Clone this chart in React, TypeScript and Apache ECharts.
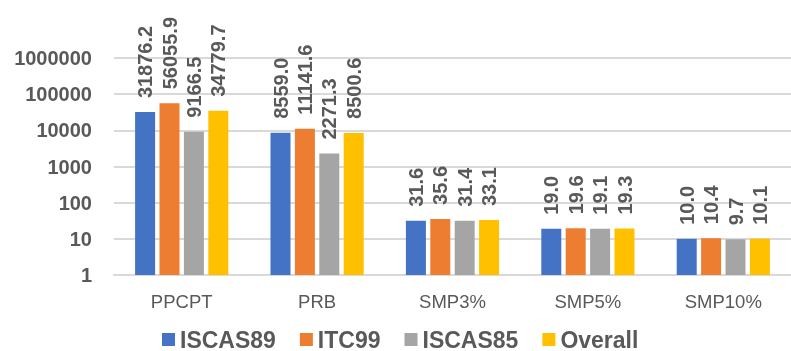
import React, { useEffect, useRef } from "react";
import * as echarts from "echarts";

const categories = ["PPCPT", "PRB", "SMP3%", "SMP5%", "SMP10%"];
const seriesNames = ["ISCAS89", "ITC99", "ISCAS85", "Overall"];
const iscas89 = [31876.2, 8559.0, 31.6, 19.0, 10.0];
const itc99 = [56055.9, 11141.6, 35.6, 19.6, 10.4];
const iscas85 = [9166.5, 2271.3, 31.4, 19.1, 9.7];
const overall = [34779.7, 8500.6, 33.1, 19.3, 10.1];
const colors = ["#4472C4", "#ED7D31", "#A5A5A5", "#FFC000"];

export default function App() {
  const ref = useRef<HTMLDivElement>(null);
  useEffect(() => {
    if (!ref.current) return;
    const chart = echarts.init(ref.current, undefined, { renderer: "svg" });
    const data = [iscas89, itc99, iscas85, overall];
    chart.setOption({
      animation: false,
      color: colors,
      grid: { left: 114, right: -7, top: 58, bottom: 76, containLabel: false },
      legend: {
        left: 162,
        top: 328,
        padding: 0,
        icon: "rect",
        itemWidth: 13,
        itemHeight: 13,
        itemGap: 24,
        textStyle: {
          color: "#595959",
          fontSize: 23,
          lineHeight: 23,
          fontWeight: "bold",
          fontFamily: "Liberation Sans, Arial, sans-serif",
        },
        data: seriesNames,
      },
      xAxis: {
        type: "category",
        data: categories,
        axisLine: { lineStyle: { color: "#D9D9D9", width: 2 } },
        axisTick: { show: false },
        axisLabel: { color: "#595959", fontSize: 18.5, margin: 17, fontFamily: "Liberation Sans, Arial, sans-serif" },
      },
      yAxis: {
        type: "log",
        logBase: 10,
        min: 1,
        max: 1000000,
        axisLine: { show: false },
        axisTick: { show: false },
        splitLine: { lineStyle: { color: "#D9D9D9", width: 2 } },
        axisLabel: {
          color: "#595959",
          fontSize: 20,
          fontWeight: "bold",
          margin: 22,
          fontFamily: "Liberation Sans, Arial, sans-serif",
          formatter: (v: number) => String(Math.round(v)),
        },
      },
      series: seriesNames.map((name, i) => ({
        name,
        type: "bar",
        data: data[i],
        barWidth: 20,
        barGap: "22%",
        label: {
          show: true,
          position: "top",
          rotate: 90,
          align: "left",
          verticalAlign: "middle",
          distance: 14,
          color: "#595959",
          fontSize: 20,
          fontWeight: "bold",
          fontFamily: "Liberation Sans, Arial, sans-serif",
          formatter: (p: any) => Number(p.value).toFixed(1),
        },
      })),
    });
    return () => chart.dispose();
  }, []);
  return <div ref={ref} style={{ position: "fixed", left: 0, top: 0, width: 791, height: 351 }} />;
}
